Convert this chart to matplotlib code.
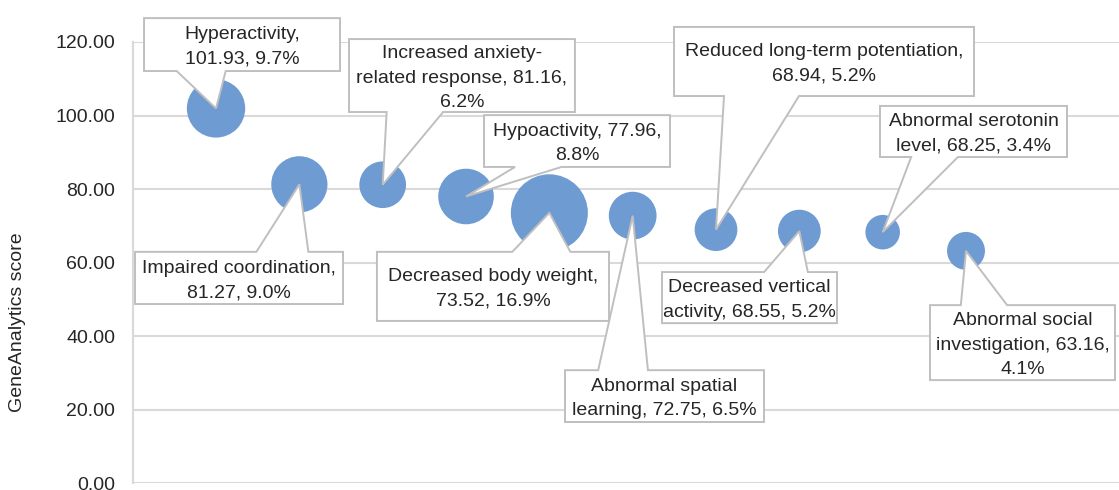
import textwrap

import matplotlib
matplotlib.use("Agg")
import matplotlib.pyplot as plt
import matplotlib.transforms as mtransforms
import numpy as np
from matplotlib.patches import Polygon

# phenotype terms, GeneAnalytics scores and share of matched genes (%)
phenotypes = [
    "Hyperactivity",
    "Impaired coordination",
    "Increased anxiety-related response",
    "Hypoactivity",
    "Decreased body weight",
    "Abnormal spatial learning",
    "Reduced long-term potentiation",
    "Decreased vertical activity",
    "Abnormal serotonin level",
    "Abnormal social investigation",
]
scores = [101.93, 81.27, 81.16, 77.96, 73.52, 72.75, 68.94, 68.55, 68.25, 63.16]
shares = [9.7, 9.0, 6.2, 8.8, 16.9, 6.5, 5.2, 5.2, 3.4, 4.1]
y_ticks = [0, 20, 40, 60, 80, 100, 120]

# callout boxes (left, right, top, bottom) in data units, and wrap width of the text
boxes = [
    (0.136, 2.488, 126.5, 112.1),
    (0.028, 2.524, 62.9, 48.7),
    (2.596, 5.307, 120.8, 100.95),
    (4.216, 6.448, 100.1, 86.0),
    (2.931, 5.716, 62.9, 44.1),
    (5.188, 7.576, 30.7, 16.6),
    (6.496, 10.096, 124.1, 105.3),
    (6.352, 8.452, 57.4, 43.5),
    (8.968, 11.212, 102.6, 88.7),
    (9.568, 11.788, 48.4, 28.0),
]
wrap_widths = [14, 22, 24, 20, 22, 21, 31, 21, 18, 21]

FONT = "Liberation Sans"
TEXT_COLOR = "#262626"
GRID_COLOR = "#D9D9D9"
BOX_EDGE = "#BFBFBF"
BUBBLE_COLOR = "#6E9BD2"
BUBBLE_SCALE = 182.0  # marker area (pt^2) per percent
FS = 14

W, H, DPI = 1119, 490, 100
fig = plt.figure(figsize=(W / DPI, H / DPI), dpi=DPI)
ax = fig.add_axes([132.7 / W, 7 / H, (W - 132.7) / W, 441 / H])

xs = np.arange(1, len(scores) + 1)
ax.set_xlim(0, (W - 132.7) / 83.33)
ax.set_ylim(0, 120)

ax.set_yticks(y_ticks)
ax.set_yticklabels([f"{v:.2f}" for v in y_ticks], fontfamily=FONT, fontsize=FS, color=TEXT_COLOR)
ax.tick_params(axis="y", length=0, pad=12.5)
ax.set_xticks([])
ax.grid(axis="y", color=GRID_COLOR, linewidth=1.5, zorder=0)
ax.set_axisbelow(True)
for side in ["top", "right", "bottom"]:
    ax.spines[side].set_visible(False)
ax.spines["left"].set_color(GRID_COLOR)
ax.spines["left"].set_linewidth(1.5)

ax.scatter(xs, scores, s=np.array(shares) * BUBBLE_SCALE, color=BUBBLE_COLOR,
           edgecolors="none", zorder=2, clip_on=False)

fig.text(18 / W, 1 - 322 / H, "GeneAnalytics score", rotation=90, ha="center", va="center",
         fontfamily=FONT, fontsize=FS, color=TEXT_COLOR)


def wedge_callout(l, r, b, t, tx, ty):
    # rectangle with a triangular pointer, corners in display coords (y up)
    w, h = r - l, t - b
    cx, cy = (l + r) / 2, (b + t) / 2
    dx, dy = tx - cx, ty - cy
    tip = (tx, ty)
    xa = l + w * (7 if dx > 0 else 2) / 12
    xb = l + w * (10 if dx > 0 else 5) / 12
    ya = t - h * (7 if dy < 0 else 2) / 12
    yb = t - h * (10 if dy < 0 else 5) / 12
    inside = l <= tx <= r and b <= ty <= t
    pts = [(l, b)]
    horiz = abs(dy) - abs(dx * h / w) > 0
    if not inside and horiz and dy < 0:
        pts += [(xa, b), tip, (xb, b)]
    pts.append((r, b))
    if not inside and not horiz and dx > 0:
        pts += [(r, yb), tip, (r, ya)]
    pts.append((r, t))
    if not inside and horiz and dy > 0:
        pts += [(xb, t), tip, (xa, t)]
    pts.append((l, t))
    if not inside and not horiz and dx < 0:
        pts += [(l, ya), tip, (l, yb)]
    return np.array(pts)


to_disp = ax.transData
to_data = ax.transData.inverted()
# nudge the multi-line labels down a little inside their boxes
text_trans = ax.transData + mtransforms.ScaledTranslation(0, -2.5 / DPI, fig.dpi_scale_trans)
for i, (x, y) in enumerate(zip(xs, scores)):
    l, r, t, b = boxes[i]
    (dl, db), (dr, dt) = to_disp.transform([(l, b), (r, t)])
    tx, ty = to_disp.transform((x, y))
    poly = to_data.transform(wedge_callout(dl, dr, db, dt, tx, ty))
    ax.add_patch(Polygon(poly, closed=True, facecolor="white", edgecolor=BOX_EDGE,
                         linewidth=1.4, zorder=3, clip_on=False))
    label = f"{phenotypes[i]}, {scores[i]:.2f}, {shares[i]:.1f}%"
    label = "\n".join(textwrap.wrap(label, width=wrap_widths[i]))
    ax.text((l + r) / 2, (t + b) / 2, label, ha="center", va="center", multialignment="center",
            fontfamily=FONT, fontsize=FS, color=TEXT_COLOR, linespacing=1.58, zorder=4,
            clip_on=False, transform=text_trans)

fig.savefig("out.png", dpi=DPI)
